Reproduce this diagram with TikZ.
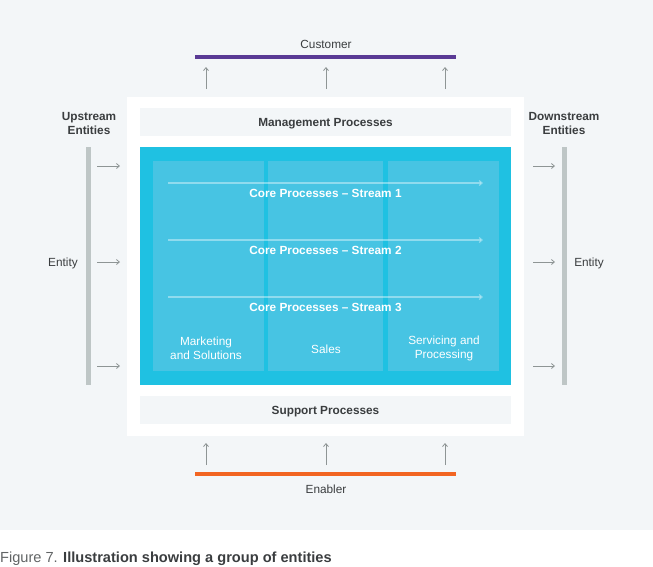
\documentclass[tikz,border=0pt]{standalone}
\usepackage{fontspec}
\setmainfont{Liberation Sans}
\usetikzlibrary{arrows.meta,positioning}
\definecolor{pagegrey}{HTML}{F3F6F8}
\definecolor{coreblue}{HTML}{1FC1E2}
\definecolor{laneblue}{HTML}{47C4E3}
\definecolor{textgrey}{HTML}{3A3D3F}
\definecolor{entitygrey}{HTML}{BEC6C6}
\definecolor{arrowgrey}{HTML}{8E9595}
\definecolor{custpurple}{HTML}{5A3A95}
\definecolor{enableorange}{HTML}{F26522}

\begin{document}
\begin{tikzpicture}[
    x=1pt,
    y=-1pt,
    >={Straight Barb[length=3pt,width=5pt]},
    plain/.style={font=\fontsize{11.8}{14}\selectfont,text=textgrey,inner sep=0pt,align=center},
    head/.style={plain,font=\fontsize{11.8}{14}\selectfont\bfseries},
    lane/.style={fill=laneblue,anchor=north west,inner sep=0pt,minimum height=210pt},
    lanetext/.style={plain,text=white},
    streamtext/.style={head,text=white},
    bar/.style={inner sep=0pt,minimum width=261pt,minimum height=4pt},
    entitybar/.style={fill=entitygrey,inner sep=0pt,minimum width=5pt,minimum height=238pt},
    flow/.style={->,arrowgrey,line width=0.8pt},
    stream/.style={->,white,opacity=0.4,line width=1.2pt}
]
  \useasboundingbox (0,0) rectangle (653,566);
  \fill[pagegrey] (0,0) rectangle (653,530);
  \fill[white] (127,97) rectangle (524,436);

  % the group
  \node[fill=pagegrey,inner sep=0pt,minimum width=371pt,minimum height=28pt] (mgmt) at (325.5,122) {};
  \node[head] (mgmttext) at (325.5,123.5) {Management Processes};
  \node[fill=coreblue,inner sep=0pt,minimum width=371pt,minimum height=238pt] (core) at (325.5,266) {};
  \node[lane,minimum width=111pt] (lane1) at (153,161) {};
  \node[lane,minimum width=115pt] (lane2) at (268,161) {};
  \node[lane,minimum width=111pt] (lane3) at (388,161) {};
  \node[fill=pagegrey,inner sep=0pt,minimum width=371pt,minimum height=28pt] (support) at (325.5,410) {};
  \node[head] (supporttext) at (325.5,411.5) {Support Processes};

  \node[lanetext] (mkt) at (206,348.5) {Marketing\\and Solutions};
  \node[lanetext] (sales) at (326,349.5) {Sales};
  \node[lanetext] (svc) at (444,348.5) {Servicing and\\Processing};

  \foreach \i/\y in {1/183,2/240,3/297} {
    \coordinate (s\i w) at (168,\y);
    \coordinate (s\i e) at (483,\y);
    \draw[stream] (s\i w) -- (s\i e);
    \node[streamtext] (st\i) at (325.5,\y+10.5) {Core Processes -- Stream \i};
  }

  % customer and enabler
  \node[plain] (cust) at (326,44.5) {Customer};
  \node[bar,fill=custpurple] (custbar) at (325.5,57) {};
  \node[bar,fill=enableorange] (enbar) at (325.5,474) {};
  \node[plain] (enab) at (326,489.5) {Enabler};
  \foreach \i/\x in {1/206,2/326,3/445} {
    \coordinate (mu\i) at (\x,89);
    \coordinate (mt\i) at (\x,67);
    \draw[flow] (mu\i) -- (mt\i);
    \coordinate (eb\i) at (\x,465);
    \coordinate (et\i) at (\x,443);
    \draw[flow] (eb\i) -- (et\i);
  }

  % upstream and downstream
  \node[head] (up) at (89,123.5) {Upstream\\Entities};
  \node[entitybar] (upbar) at (88.5,266) {};
  \node[plain] (upent) at (63,263.5) {Entity};
  \node[head] (down) at (564,123.5) {Downstream\\Entities};
  \node[entitybar] (downbar) at (564.5,266) {};
  \node[plain] (downent) at (589,263.5) {Entity};
  \foreach \i/\y in {1/166,2/262,3/366} {
    \coordinate (ua\i) at (97,\y);
    \coordinate (ub\i) at (120,\y);
    \draw[flow] (ua\i) -- (ub\i);
    \coordinate (da\i) at (533,\y);
    \coordinate (db\i) at (555,\y);
    \draw[flow] (da\i) -- (db\i);
  }

  \node[anchor=west,inner sep=0pt,font=\fontsize{14.6}{17}\selectfont,text=textgrey!80] (caption) at (0,559)
    {Figure 7. \textcolor{textgrey}{\bfseries Illustration showing a group of entities}};
\end{tikzpicture}
\end{document}
